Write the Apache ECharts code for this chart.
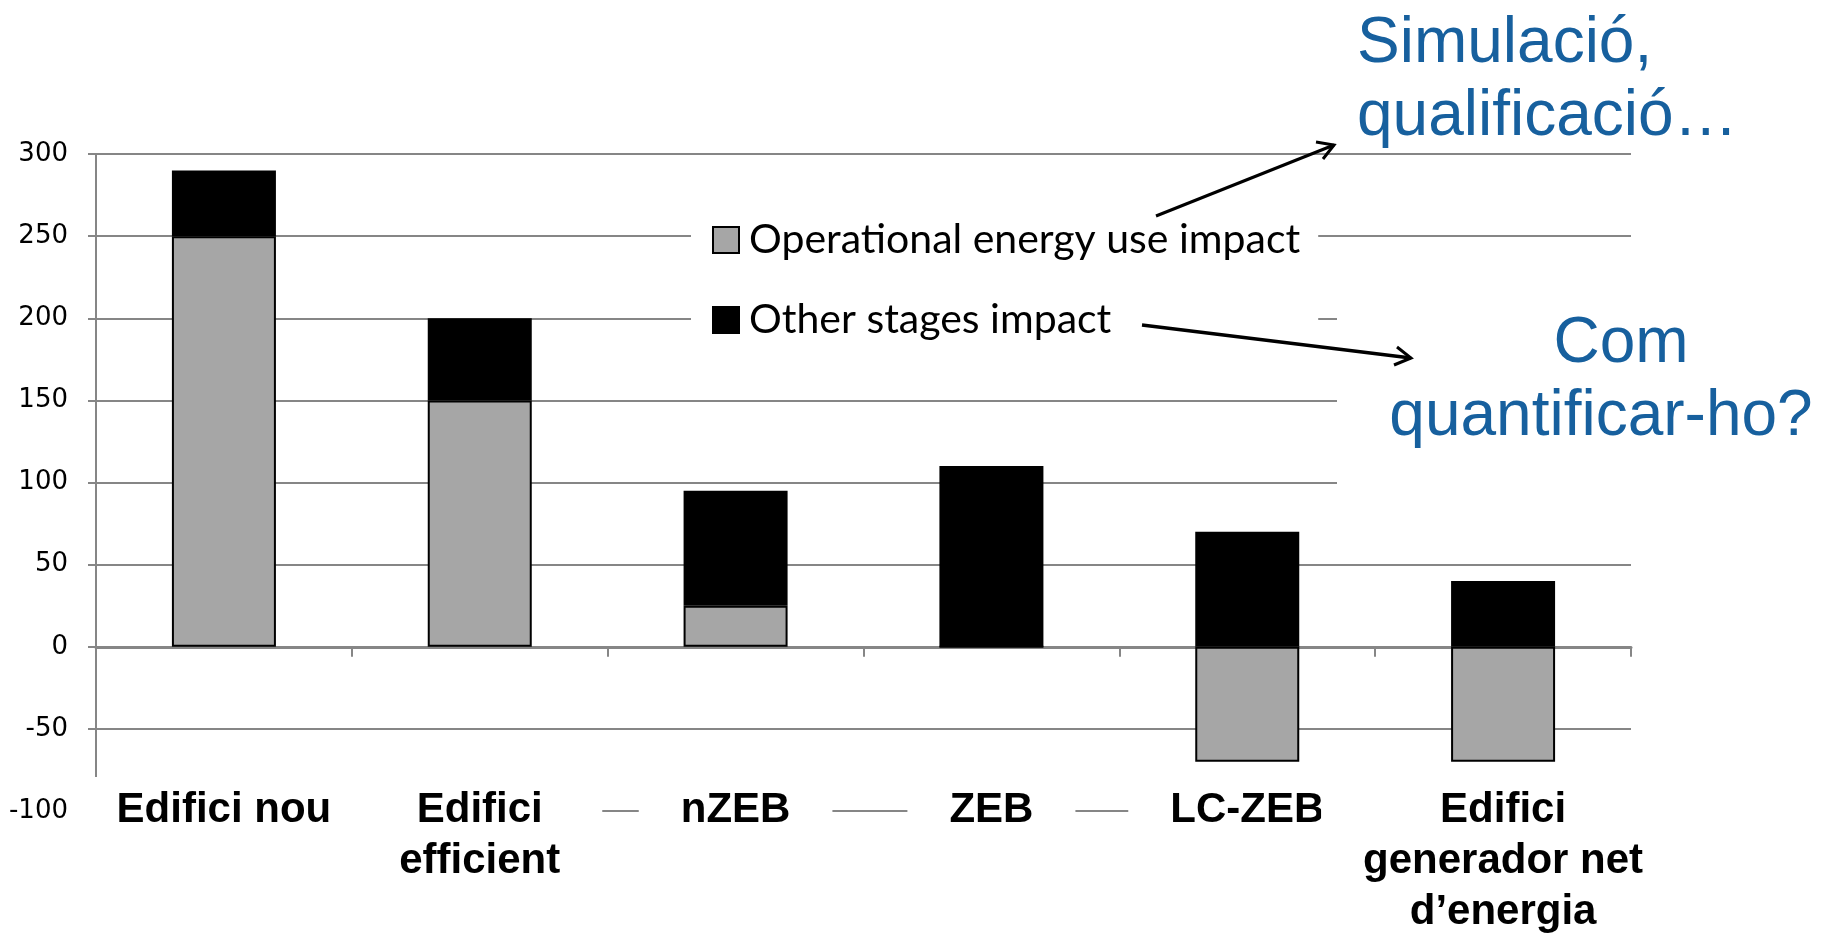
<!DOCTYPE html>
<html>
<head>
<meta charset="utf-8">
<script src="https://cdn.jsdelivr.net/npm/echarts@6/dist/echarts.min.js"></script>
<style>
html, body { margin: 0; padding: 0; background: #fff; }
#chart { width: 1831px; height: 938px; }
</style>
</head>
<body>
<div id="chart"></div>
<script>
// dades del gràfic
var categories = ['Edifici nou', 'Edifici\nefficient', 'nZEB', 'ZEB', 'LC-ZEB', 'Edifici\ngenerador net\nd\u2019energia'];
var operational = [250, 150, 25, 0, -70, -70];
var otherStages = [40, 50, 70, 110, 70, 40];
var seriesNames = ['Operational energy use impact', 'Other stages impact'];
var yMin = -100, yMax = 300, yStep = 50;

var myChart = echarts.init(document.getElementById('chart'));

var gridColor = '#868686';
var blue = '#17609E';

var option = {
    backgroundColor: '#fff',
    animation: false,
    grid: {
        left: 96, right: 200, top: 154, bottom: 127,
        containLabel: false,
        outerBoundsMode: 'none'
    },
    legend: {
        orient: 'vertical',
        left: 691, top: 199,
        icon: 'rect',
        itemWidth: 26, itemHeight: 26,
        itemGap: 38,
        backgroundColor: '#fff',
        padding: [20, 18, 20, 21],
        textStyle: { fontFamily: 'Lato', fontSize: 41, lineHeight: 42, color: '#000', padding: [0, 0, 0, 5] },
        data: seriesNames
    },
    xAxis: [{
        type: 'category',
        data: categories,
        position: 'bottom',
        axisLine: { onZero: true, lineStyle: { color: gridColor, width: 3 } },
        axisTick: { show: true, length: 10, lineStyle: { color: gridColor, width: 2 } },
        axisLabel: { show: false },
        splitLine: { show: false }
    }, {
        type: 'category',
        data: categories,
        position: 'bottom',
        z: 5,
        axisLine: { show: false, onZero: false },
        axisTick: { show: false },
        axisLabel: {
            interval: 0,
            margin: -34,
            fontFamily: 'Liberation Sans',
            fontWeight: 'bold',
            fontSize: 42,
            lineHeight: 51,
            color: '#000',
            textShadowColor: '#8a8a8a',
            textShadowOffsetX: 2,
            textShadowOffsetY: 2,
            textShadowBlur: 0,
            backgroundColor: '#fff',
            padding: [8, 42, 0, 42]
        }
    }],
    yAxis: {
        type: 'value',
        min: yMin, max: yMax, interval: yStep,
        axisLine: { show: true, lineStyle: { color: gridColor, width: 2 } },
        axisTick: { show: true, length: 8, lineStyle: { color: gridColor, width: 2 } },
        axisLabel: { fontFamily: 'DejaVu Sans', fontSize: 26, color: '#000', margin: 28 },
        splitLine: { lineStyle: { color: gridColor, width: 2 } }
    },
    series: [{
        name: seriesNames[0],
        type: 'bar',
        stack: 'total',
        barWidth: 104,
        data: operational,
        itemStyle: { color: '#A6A6A6', borderColor: '#000', borderWidth: 2 }
    }, {
        name: seriesNames[1],
        type: 'bar',
        stack: 'total',
        barWidth: 104,
        data: otherStages,
        itemStyle: { color: '#000', borderColor: '#000', borderWidth: 2 }
    }],
    graphic: [
        { type: 'rect', z: 10, shape: { x: 1337, y: 300, width: 494, height: 200 }, style: { fill: '#fff' } },
        { type: 'text', z: 11, x: 1357, y: 44, style: { text: 'Simulació,', fill: blue, font: '64px "Liberation Sans"', verticalAlign: 'middle' } },
        { type: 'text', z: 11, x: 1357, y: 117, style: { text: 'qualificació…', fill: blue, font: '64px "Liberation Sans"', verticalAlign: 'middle' } },
        { type: 'text', z: 11, x: 1621, y: 344, style: { text: 'Com', fill: blue, font: '64px "Liberation Sans"', align: 'center', verticalAlign: 'middle' } },
        { type: 'text', z: 11, x: 1601, y: 417, style: { text: 'quantificar-ho?', fill: blue, font: '64px "Liberation Sans"', align: 'center', verticalAlign: 'middle' } },
        { type: 'line', z: 12, shape: { x1: 1156, y1: 216, x2: 1334, y2: 145 }, style: { stroke: '#000', lineWidth: 3 } },
        { type: 'polyline', z: 12, shape: { points: [[1316, 142], [1334, 145], [1323, 159]] }, style: { stroke: '#000', lineWidth: 3, fill: null } },
        { type: 'line', z: 12, shape: { x1: 1142, y1: 325, x2: 1411, y2: 358 }, style: { stroke: '#000', lineWidth: 3.5 } },
        { type: 'polyline', z: 12, shape: { points: [[1397, 347], [1411, 358], [1394, 365]] }, style: { stroke: '#000', lineWidth: 3, fill: null } }
    ]
};

myChart.setOption(option);
</script>
</body>
</html>
